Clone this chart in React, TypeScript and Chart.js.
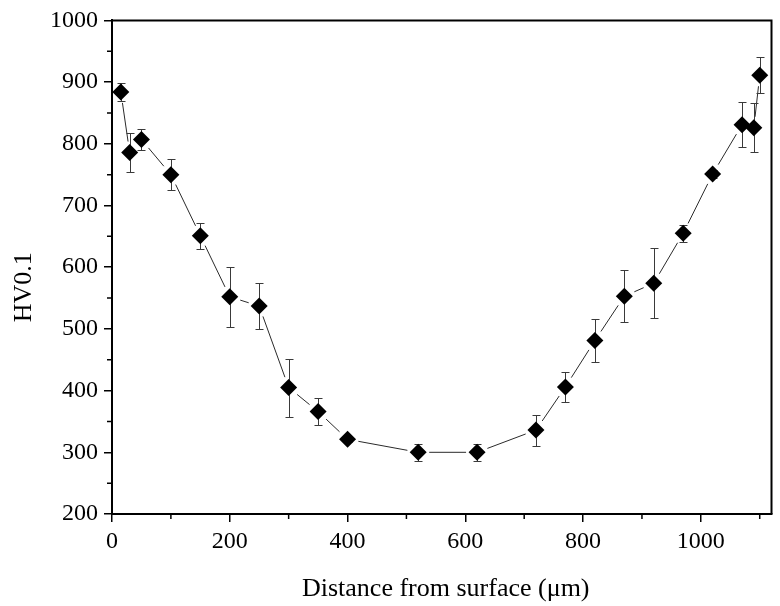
import React, { useEffect, useRef } from "react";
import { Chart, registerables } from "chart.js";

Chart.register(...registerables);

// Microhardness profile across the section
const distanceUm = [15, 30, 50, 100, 150, 200, 250, 300, 350, 400, 520, 620, 720, 770, 820, 870, 920, 970, 1020, 1070, 1090, 1100];
const hardnessHV = [884, 786, 807, 750, 651, 552, 537, 405, 366, 321, 300, 300, 336, 406, 481, 553, 574, 655, 751, 831, 826, 911];
const hardnessErr = [15, 31, 17, 25, 21, 49, 37, 47, 22, 4, 14, 14, 25, 24, 35, 42, 57, 14, 7, 36, 40, 29];

const xMajorTicks = [0, 200, 400, 600, 800, 1000];
const xMinorTicks = [100, 300, 500, 700, 900, 1100];
const yMajorTicks = [200, 300, 400, 500, 600, 700, 800, 900, 1000];
const yMinorTicks = [250, 350, 450, 550, 650, 750, 850, 950];

const xTitle = "Distance from surface (μm)";
const yTitle = "HV0.1";

const FONT = "'Liberation Serif', 'Times New Roman', serif";

// Connecting line (with small gaps around the markers), error bars, frame and minor ticks
const profilePlugin = {
  id: "profileDecor",
  beforeDatasetsDraw(chart: any) {
    const { ctx, scales } = chart;
    const xs = scales.x;
    const ys = scales.y;
    ctx.save();
    ctx.strokeStyle = "#2a2a2a";
    ctx.lineWidth = 1;
    const gap = 11;
    for (let i = 0; i < distanceUm.length - 1; i++) {
      const x1 = xs.getPixelForValue(distanceUm[i]);
      const y1 = ys.getPixelForValue(hardnessHV[i]);
      const x2 = xs.getPixelForValue(distanceUm[i + 1]);
      const y2 = ys.getPixelForValue(hardnessHV[i + 1]);
      const dx = x2 - x1;
      const dy = y2 - y1;
      const len = Math.hypot(dx, dy);
      if (len <= gap * 2) continue;
      const ux = dx / len;
      const uy = dy / len;
      ctx.beginPath();
      ctx.moveTo(x1 + ux * gap, y1 + uy * gap);
      ctx.lineTo(x2 - ux * gap, y2 - uy * gap);
      ctx.stroke();
    }
    ctx.strokeStyle = "#3a3a3a";
    ctx.lineWidth = 1;
    const cap = 4;
    for (let i = 0; i < distanceUm.length; i++) {
      const x = Math.round(xs.getPixelForValue(distanceUm[i])) + 0.5;
      const yTop = Math.round(ys.getPixelForValue(hardnessHV[i] + hardnessErr[i])) + 0.5;
      const yBot = Math.round(ys.getPixelForValue(hardnessHV[i] - hardnessErr[i])) + 0.5;
      ctx.beginPath();
      ctx.moveTo(x, yTop);
      ctx.lineTo(x, yBot);
      ctx.moveTo(x - cap, yTop);
      ctx.lineTo(x + cap, yTop);
      ctx.moveTo(x - cap, yBot);
      ctx.lineTo(x + cap, yBot);
      ctx.stroke();
    }
    ctx.restore();
  },
  afterDraw(chart: any) {
    const { ctx, chartArea, scales } = chart;
    const xs = scales.x;
    const ys = scales.y;
    ctx.save();
    ctx.strokeStyle = "#000";
    ctx.lineWidth = 2;
    ctx.beginPath();
    ctx.moveTo(chartArea.left, chartArea.top);
    ctx.lineTo(chartArea.right, chartArea.top);
    ctx.lineTo(chartArea.right, chartArea.bottom);
    ctx.stroke();
    ctx.lineWidth = 1.5;
    ctx.beginPath();
    xMinorTicks.forEach((v) => {
      const x = xs.getPixelForValue(v);
      ctx.moveTo(x, chartArea.bottom);
      ctx.lineTo(x, chartArea.bottom + 5);
    });
    yMinorTicks.forEach((v) => {
      const y = ys.getPixelForValue(v);
      ctx.moveTo(chartArea.left, y);
      ctx.lineTo(chartArea.left - 5, y);
    });
    ctx.stroke();

    // axis titles
    ctx.fillStyle = "#000";
    ctx.font = `26px ${FONT}`;
    ctx.textAlign = "center";
    ctx.textBaseline = "alphabetic";
    ctx.fillText(xTitle, (chartArea.left + chartArea.right) / 2 + 4, 596);
    ctx.translate(31, (chartArea.top + chartArea.bottom) / 2 + 20);
    ctx.rotate(-Math.PI / 2);
    ctx.fillText(yTitle, 0, 0);
    ctx.restore();
  },
};

export default function App() {
  const canvasRef = useRef<HTMLCanvasElement | null>(null);

  useEffect(() => {
    const canvas = canvasRef.current;
    if (!canvas) return;
    const chart = new Chart(canvas, {
      type: "scatter",
      data: {
        datasets: [
          {
            label: yTitle,
            data: distanceUm.map((d, i) => ({ x: d, y: hardnessHV[i] })),
            showLine: false,
            pointStyle: "rectRot",
            pointRadius: 8.5,
            pointHoverRadius: 8.5,
            backgroundColor: "#000",
            borderColor: "#000",
            borderWidth: 0,
          },
        ],
      },
      options: {
        responsive: false,
        animation: false,
        devicePixelRatio: 1,
        layout: { padding: { top: 19, right: 7, left: 0, bottom: 0 } },
        plugins: {
          legend: { display: false },
          tooltip: { enabled: false },
        },
        scales: {
          x: {
            type: "linear",
            min: 0,
            max: 1120,
            afterBuildTicks: (scale: any) => {
              scale.ticks = xMajorTicks.map((v) => ({ value: v }));
            },
            afterFit: (scale: any) => {
              scale.height = 92;
            },
            ticks: {
              color: "#000",
              font: { family: FONT, size: 24 },
              padding: 5,
              maxRotation: 0,
              autoSkip: false,
              callback: (v: any) => String(v),
            },
            grid: {
              display: true,
              drawOnChartArea: false,
              drawTicks: true,
              tickLength: 8,
              color: "#000",
              lineWidth: 1.5,
            },
            border: { display: true, color: "#000", width: 2 },
          },
          y: {
            type: "linear",
            min: 200,
            max: 1000,
            afterBuildTicks: (scale: any) => {
              scale.ticks = yMajorTicks.map((v) => ({ value: v }));
            },
            afterFit: (scale: any) => {
              scale.width = 112;
            },
            ticks: {
              color: "#000",
              font: { family: FONT, size: 24 },
              padding: 6,
              autoSkip: false,
              callback: (v: any) => String(v),
            },
            grid: {
              display: true,
              drawOnChartArea: false,
              drawTicks: true,
              tickLength: 8,
              color: "#000",
              lineWidth: 1.5,
            },
            border: { display: true, color: "#000", width: 2 },
          },
        },
      },
      plugins: [profilePlugin],
    });
    return () => chart.destroy();
  }, []);

  return (
    <div style={{ position: "absolute", left: 0, top: 0, width: 780, height: 606, background: "#fff" }}>
      <canvas ref={canvasRef} width={780} height={606} style={{ width: 780, height: 606 }} />
    </div>
  );
}
